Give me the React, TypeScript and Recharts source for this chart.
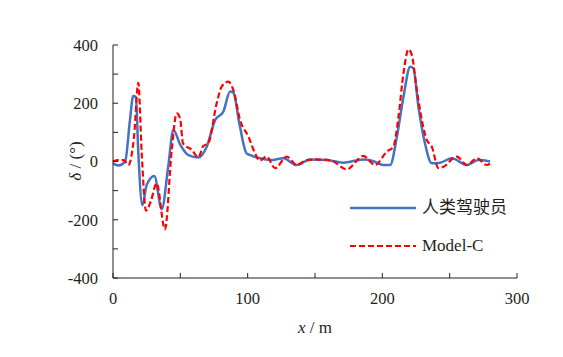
import React from 'react';
import { LineChart, Line, XAxis, YAxis } from 'recharts';

// 人类驾驶员 (blue solid)
const driverX = [0, 4, 9, 12.6, 15, 17, 18.8, 21.8, 25, 30.7, 36.2, 41, 44.8, 50, 56, 63.4, 69.6, 75.8, 81.9, 87, 89.4, 93.8, 99.2, 102, 109, 117, 126.5, 136.4, 146.3, 158.7, 171, 185.8, 193, 200.8, 205.8, 210.8, 215.7, 220.7, 223, 226.8, 231.7, 236.7, 242.9, 251.6, 262.8, 271.4, 280];
const driverY = [-6, -14, 0, 142, 225, 222, 29, -150, -81, -50, -164, -18, 108, 57, 22, 14, 51, 142, 171, 240, 236, 131, 28, 22, 11, 5, 11, -12, 7, 5, -4, 7, 2, -12, -12, 85, 222, 325, 320, 188, 62, -6, -4, 11, -12, 5, 0];

// Model-C (red dashed)
const modelX = [0, 3, 8, 11.4, 15.6, 18.8, 21.3, 24.5, 28, 32.4, 38.6, 43.6, 47.3, 49.8, 52, 58.4, 63.4, 67, 70.7, 77, 80.7, 85.6, 89.4, 94.4, 100.6, 105.5, 109, 114, 120.4, 129, 136.4, 143.9, 151.3, 161.2, 173.6, 185.8, 194.7, 203.3, 208.2, 212, 215.7, 219.4, 221.9, 225.6, 233, 236.7, 241.7, 245.4, 255.3, 262.8, 270.2, 277.6, 280];
const modelY = [0, 5, 5, -12, 85, 270, 29, -169, -138, -75, -233, 39, 165, 148, 62, 40, 14, 53, 62, 200, 257, 274, 245, 142, 85, 28, 3, 17, -23, 17, -12, 5, 7, 5, -27, 19, -12, 34, 51, 154, 303, 385, 366, 245, 74, 51, -23, -18, 17, -12, 11, -12, -8];

const xTicks = [0, 50, 100, 150, 200, 250, 300];
const yTicks = [-400, -300, -200, -100, 0, 100, 200, 300, 400];
const seriesNames = ['人类驾驶员', 'Model-C'];

const driverData = driverX.map((x, i) => ({ x, y: driverY[i] }));
const modelData = modelX.map((x, i) => ({ x, y: modelY[i] }));

const FONT = "'Liberation Serif', 'Times New Roman', 'Noto Sans CJK SC', serif";
const INK = '#231f20';
const BLUE = '#4472C4';
const RED = '#FF0000';

const YTick = (props: any) => {
  const { x, y, payload } = props;
  const v = payload.value;
  return (
    <g>
      <line x1={x} x2={x + 5} y1={y} y2={y} stroke={INK} strokeWidth={1} />
      {v % 200 === 0 && (
        <text x={x - 15} y={y} dy="0.35em" textAnchor="end" style={{ fontFamily: FONT, fontSize: 16.5 }} fill={INK}>
          {v}
        </text>
      )}
    </g>
  );
};

const XTick = (props: any) => {
  const { x, y, payload } = props;
  const v = payload.value;
  return (
    <g>
      <line x1={x} x2={x} y1={y} y2={y - 5} stroke={INK} strokeWidth={1} />
      {v % 100 === 0 && (
        <text x={x} y={y + 20} dy="0.35em" textAnchor="middle" style={{ fontFamily: FONT, fontSize: 16.5 }} fill={INK}>
          {v}
        </text>
      )}
    </g>
  );
};

const LegendBox = () => (
  <div style={{ position: 'absolute', left: 350, top: 189 }}>
    {seriesNames.map((name, i) => (
      <div key={name} style={{ display: 'flex', alignItems: 'center', height: 38 }}>
        <svg width={66} height={10} style={{ marginRight: 6 }}>
          <line
            x1={0}
            x2={66}
            y1={5}
            y2={5}
            stroke={i === 0 ? BLUE : RED}
            strokeWidth={i === 0 ? 2.5 : 2.2}
            strokeDasharray={i === 0 ? undefined : '6 3'}
          />
        </svg>
        <span style={{ fontFamily: FONT, fontSize: 17, color: INK, lineHeight: '20px' }}>{name}</span>
      </div>
    ))}
  </div>
);

export default function App() {
  return (
    <div style={{ position: 'absolute', left: 0, top: 0, width: 563, height: 357, background: '#fff' }}>
      <LineChart width={563} height={357} margin={{ top: 45, right: 46, bottom: 49, left: 53 }}>
        <XAxis
          type="number"
          dataKey="x"
          domain={[0, 300]}
          ticks={xTicks}
          interval={0}
          height={30}
          tickSize={0}
          tickMargin={0}
          tickLine={false}
          axisLine={{ stroke: INK, strokeWidth: 1 }}
          tick={<XTick />}
          allowDuplicatedCategory={false}
          label={{
            content: () => (
              <text x={315} y={327} dy="0.35em" textAnchor="middle" style={{ fontFamily: FONT, fontSize: 17 }} fill={INK}>
                <tspan fontStyle="italic">x</tspan>
                <tspan>{'  / m'}</tspan>
              </text>
            ),
          }}
        />
        <YAxis
          type="number"
          dataKey="y"
          domain={[-400, 400]}
          ticks={yTicks}
          interval={0}
          width={60}
          tickSize={0}
          tickMargin={0}
          tickLine={false}
          axisLine={{ stroke: INK, strokeWidth: 1 }}
          tick={<YTick />}
          label={{
            content: () => (
              <text
                transform="translate(75,161) rotate(-90)"
                dy="0.35em"
                textAnchor="middle"
                style={{ fontFamily: FONT, fontSize: 17 }}
                fill={INK}
              >
                <tspan fontStyle="italic">δ</tspan>
                <tspan>{'  / (°)'}</tspan>
              </text>
            ),
          }}
        />
        <Line
          data={driverData}
          dataKey="y"
          name={seriesNames[0]}
          type="monotone"
          stroke={BLUE}
          strokeWidth={2.5}
          dot={false}
          activeDot={false}
          isAnimationActive={false}
        />
        <Line
          data={modelData}
          dataKey="y"
          name={seriesNames[1]}
          type="monotone"
          stroke={RED}
          strokeWidth={2.2}
          strokeDasharray="6 3"
          dot={false}
          activeDot={false}
          isAnimationActive={false}
        />
      </LineChart>
      <LegendBox />
    </div>
  );
}
